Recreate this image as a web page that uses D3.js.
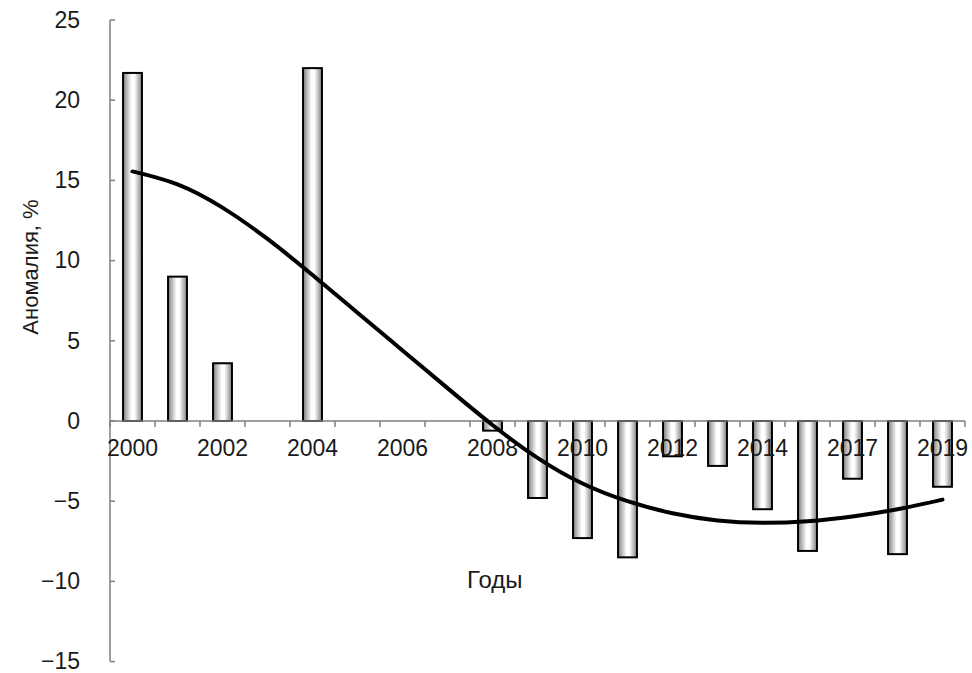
<!DOCTYPE html>
<html>
<head>
<meta charset="utf-8">
<script src="https://cdn.jsdelivr.net/npm/d3@7"></script>
<style>
  html, body { margin: 0; padding: 0; background: #fff; }
  svg { display: block; font-family: "Liberation Sans", Arial, sans-serif; }
</style>
</head>
<body>
<svg id="chart" width="972" height="673"></svg>
<script>
const years = ["2000","2001","2002","2003","2004","2005","2006","2007","2008","2009",
               "2010","2011","2012","2013","2014","2015","2017","2018","2019"];
const anomaly = [21.7, 9.0, 3.6, null, 22.0, null, null, null, -0.6, -4.8,
                 -7.3, -8.5, -2.2, -2.8, -5.5, -8.1, -3.6, -8.3, -4.1];
const trend = [15.56, 14.75, 13.3, 11.35, 9.1, 6.75, 4.4, 2.05, -0.25, -2.3,
               -3.9, -5.0, -5.75, -6.2, -6.35, -6.25, -5.95, -5.5, -4.9];
const xLabels = ["2000","2002","2004","2006","2008","2010","2012","2014","2017","2019"];
const yTicks = [-15, -10, -5, 0, 5, 10, 15, 20, 25];

const svg = d3.select("#chart");
const mLeft = 110, mRight = 965, mTop = 20, mBottom = 661.6;

const x = d3.scaleBand().domain(years).range([mLeft, mRight]).paddingInner(0.58).paddingOuter(0.29);
const y = d3.scaleLinear().domain([-15, 25]).range([mBottom, mTop]);

// gradient for bars
const defs = svg.append("defs");
const grad = defs.append("linearGradient").attr("id", "barGrad").attr("x1", "0%").attr("x2", "100%").attr("y1", "0%").attr("y2", "0%");
grad.append("stop").attr("offset", "0%").attr("stop-color", "#808080");
grad.append("stop").attr("offset", "45%").attr("stop-color", "#ffffff");
grad.append("stop").attr("offset", "60%").attr("stop-color", "#ffffff");
grad.append("stop").attr("offset", "100%").attr("stop-color", "#808080");

const axisColor = "#7f7f7f";
const textColor = "#1a1a1a";
const fontFam = "Liberation Sans, Arial, sans-serif";

// Y axis
const yAxis = d3.axisLeft(y).tickValues(yTicks).tickSize(0).tickPadding(30);
const yg = svg.append("g").attr("transform", `translate(${mLeft},0)`).call(yAxis);
yg.select(".domain").remove();
yg.selectAll("text").attr("font-size", 23).attr("fill", textColor).attr("font-family", fontFam);
svg.append("line").attr("x1", mLeft).attr("x2", mLeft).attr("y1", y(25)).attr("y2", y(-15))
  .attr("stroke", axisColor).attr("stroke-width", 1.5);
svg.selectAll(".ytick").data(yTicks).enter().append("line")
  .attr("x1", mLeft).attr("x2", mLeft + 5)
  .attr("y1", d => y(d)).attr("y2", d => y(d))
  .attr("stroke", axisColor).attr("stroke-width", 1.5);

// Bars
const data = years.map((yr, i) => ({ yr, v: anomaly[i], t: trend[i] }));
svg.selectAll(".bar").data(data.filter(d => d.v !== null)).enter().append("rect")
  .attr("x", d => x(d.yr))
  .attr("width", x.bandwidth())
  .attr("y", d => y(Math.max(0, d.v)))
  .attr("height", d => Math.abs(y(d.v) - y(0)))
  .attr("fill", "url(#barGrad)")
  .attr("stroke", "#000").attr("stroke-width", 2);

// X axis line and ticks at band boundaries
svg.append("line").attr("x1", mLeft).attr("x2", mRight).attr("y1", y(0)).attr("y2", y(0))
  .attr("stroke", axisColor).attr("stroke-width", 1.5);
const tickPositions = d3.range(years.length + 1).map(i => mLeft + i * x.step());
svg.selectAll(".xtick").data(tickPositions).enter().append("line")
  .attr("x1", d => d).attr("x2", d => d)
  .attr("y1", y(0)).attr("y2", y(0) + 6)
  .attr("stroke", axisColor).attr("stroke-width", 1.5);

// X labels
const xAxis = d3.axisBottom(x).tickValues(xLabels).tickSize(0).tickPadding(19);
const xg = svg.append("g").attr("transform", `translate(0,${y(0)})`).call(xAxis);
xg.select(".domain").remove();
xg.selectAll("text").attr("font-size", 23).attr("fill", textColor).attr("font-family", fontFam);

// Trend line
const line = d3.line()
  .x(d => x(d.yr) + x.bandwidth() / 2)
  .y(d => y(d.t))
  .curve(d3.curveNatural);
svg.append("path").datum(data).attr("d", line)
  .attr("fill", "none").attr("stroke", "#000").attr("stroke-width", 4).attr("stroke-linecap", "round");

// Axis titles
svg.append("text").attr("x", 467).attr("y", 588).attr("font-size", 24).attr("fill", textColor).text("Годы");
svg.append("text").attr("transform", "translate(38,267) rotate(-90)").attr("text-anchor", "middle")
  .attr("font-size", 22).attr("fill", textColor).text("Аномалия, %");
</script>
</body>
</html>
